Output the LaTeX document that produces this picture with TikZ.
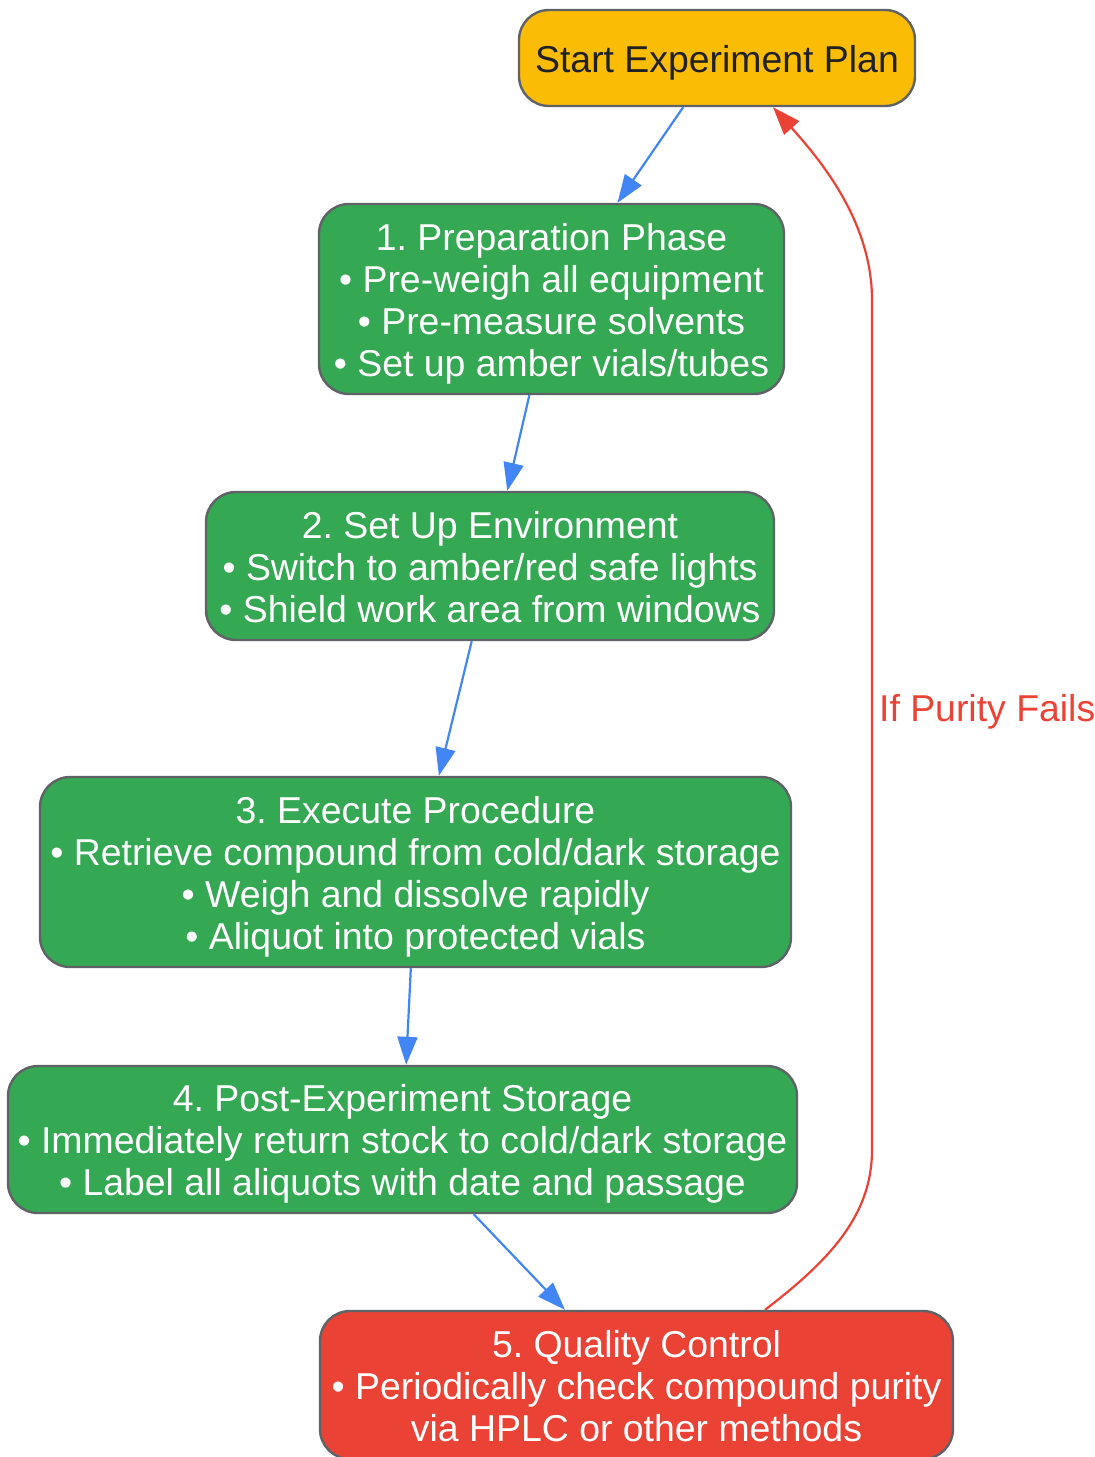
\documentclass[tikz,border=0pt]{standalone}
\usepackage{fontspec}
\setmainfont{Liberation Sans}
\usetikzlibrary{arrows.meta}
\definecolor{gyellow}{HTML}{FBBC05}
\definecolor{ggreen}{HTML}{34A853}
\definecolor{gred}{HTML}{EA4335}
\definecolor{gblue}{HTML}{4285F4}
\definecolor{gborder}{HTML}{5F6368}
\definecolor{gtext}{HTML}{202124}
\newcommand{\boxtext}[1]{\raisebox{-2.8pt}[\height][\depth]{\setlength{\tabcolsep}{0pt}\begin{tabular}{c}#1\end{tabular}}}
\tikzset{
  box/.style={draw=gborder, line width=1.2pt, rounded corners=15pt, inner sep=0pt,
    font=\fontsize{18.7}{21}\selectfont},
  greenbox/.style={box, fill=ggreen, text=white},
  flow/.style={draw=gblue, line width=1.1pt, -{Triangle[length=14pt,width=10pt]}},
  back/.style={draw=gred, line width=1.1pt, -{Triangle[length=14pt,width=10pt]}},
}
\begin{document}
\frenchspacing
\begin{tikzpicture}[x=0.5pt,y=-0.5pt]
\useasboundingbox (0,0) rectangle (1095,1457);
\node[box, fill=gyellow, text=gtext, minimum width=198pt, minimum height=48pt] (s) at (717,58) {\boxtext{Start Experiment Plan}};
\node[greenbox, minimum width=232.5pt, minimum height=95pt] (a) at (551.5,299)
  {\boxtext{1. Preparation Phase\\• Pre-weigh all equipment\\• Pre-measure solvents\\• Set up amber vials/tubes}};
\node[greenbox, minimum width=284pt, minimum height=74pt] (b) at (490,566)
  {\boxtext{2. Set Up Environment\\• Switch to amber/red safe lights\\• Shield work area from windows}};
\node[greenbox, minimum width=375.5pt, minimum height=95pt] (c) at (415.5,872)
  {\boxtext{3. Execute Procedure\\• Retrieve compound from cold/dark storage\\• Weigh and dissolve rapidly\\• Aliquot into protected vials}};
\node[greenbox, minimum width=394.5pt, minimum height=73.5pt] (d) at (402.5,1139.5)
  {\boxtext{4. Post-Experiment Storage\\• Immediately return stock to cold/dark storage\\• Label all aliquots with date and passage}};
\node[box, fill=gred, text=white, minimum width=316.5pt, minimum height=74pt] (q) at (636.5,1385)
  {\boxtext{5. Quality Control\\• Periodically check compound purity\\via HPLC or other methods}};
\draw[flow] (s) -- (a);
\draw[flow] (a) -- (b);
\draw[flow] (b) -- (c);
\draw[flow] (c) -- (d);
\draw[flow] (d) -- (q);
\coordinate (r1) at (872,1150);
\coordinate (r2) at (872,300);
\draw[back] ([xshift=64.25pt]q.north) .. controls (830,1260) and (872,1215) .. (r1)
  -- (r2) node[pos=0.515, right=1pt, text=gred, font=\fontsize{18.7}{21}\selectfont, inner sep=2pt] (lbl) {If Purity Fails}
  .. controls (872,225) and (825,165) .. ([xshift=28pt]s.south);
\end{tikzpicture}
\end{document}
